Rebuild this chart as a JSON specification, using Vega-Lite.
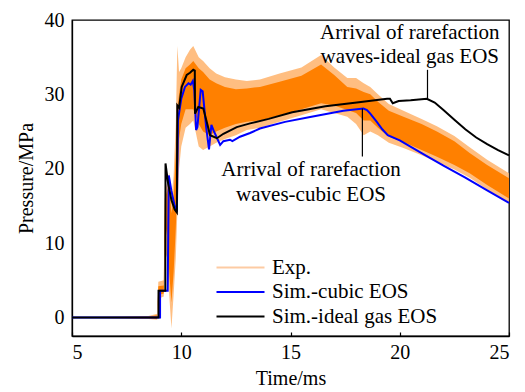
{
  "$schema": "https://vega.github.io/schema/vega-lite/v6.json",
  "width": 437,
  "height": 316,
  "autosize": {"type": "none"},
  "padding": {"left": 72, "top": 20, "right": 16, "bottom": 56},
  "background": "white",
  "config": {
    "view": {"stroke": "black", "strokeWidth": 1.3},
    "axis": {
      "grid": false,
      "domainColor": "black",
      "domainWidth": 1.3,
      "tickColor": "black",
      "tickWidth": 1.2,
      "labelFont": "Liberation Serif",
      "labelFontSize": 20,
      "labelColor": "black",
      "titleFont": "Liberation Serif",
      "titleFontSize": 20,
      "titleFontWeight": "normal",
      "titleColor": "black"
    }
  },
  "datasets": {
    "exp": [
      {"t": 5, "lo": 0, "hi": 0, "lo2": 0, "hi2": 0},
      {"t": 8.5, "lo": -0.1, "hi": 0.1, "lo2": -0.2, "hi2": 0.2},
      {"t": 8.9, "lo": -0.2, "hi": 0.3, "lo2": -0.3, "hi2": 0.5},
      {"t": 8.95, "lo": 3.0, "hi": 4.2, "lo2": 2.5, "hi2": 4.8},
      {"t": 9.2, "lo": 3.2, "hi": 4.3, "lo2": 2.8, "hi2": 5.0},
      {"t": 9.25, "lo": 10, "hi": 16, "lo2": 9, "hi2": 17},
      {"t": 9.35, "lo": 12, "hi": 17, "lo2": 8, "hi2": 18},
      {"t": 9.45, "lo": 6, "hi": 18, "lo2": 3, "hi2": 19.5},
      {"t": 9.55, "lo": 2, "hi": 14, "lo2": -1.5, "hi2": 16},
      {"t": 9.65, "lo": 6, "hi": 16, "lo2": 3, "hi2": 19},
      {"t": 9.75, "lo": 12, "hi": 22, "lo2": 8, "hi2": 26},
      {"t": 9.82, "lo": 18, "hi": 28, "lo2": 14, "hi2": 36.5},
      {"t": 9.9, "lo": 24, "hi": 30, "lo2": 20, "hi2": 33},
      {"t": 10.0, "lo": 26, "hi": 32, "lo2": 23, "hi2": 33.5},
      {"t": 10.2, "lo": 28, "hi": 33.5, "lo2": 25.5, "hi2": 35},
      {"t": 10.4, "lo": 28, "hi": 34, "lo2": 26, "hi2": 36},
      {"t": 10.55, "lo": 28, "hi": 34.5, "lo2": 26.5, "hi2": 36.5},
      {"t": 10.8, "lo": 26, "hi": 33.5, "lo2": 23, "hi2": 35},
      {"t": 11.0, "lo": 25, "hi": 33, "lo2": 22.5, "hi2": 34.5},
      {"t": 11.3, "lo": 24.5, "hi": 32, "lo2": 23, "hi2": 33.5},
      {"t": 11.6, "lo": 25, "hi": 31.5, "lo2": 23.5, "hi2": 32.8},
      {"t": 12.0, "lo": 25.5, "hi": 31, "lo2": 24, "hi2": 32.3},
      {"t": 12.5, "lo": 26, "hi": 30.7, "lo2": 24.5, "hi2": 32},
      {"t": 13.0, "lo": 26.3, "hi": 30.8, "lo2": 25.2, "hi2": 31.8},
      {"t": 13.6, "lo": 26.5, "hi": 31.0, "lo2": 25.5, "hi2": 32},
      {"t": 14.5, "lo": 27.2, "hi": 31.7, "lo2": 26.3, "hi2": 32.8},
      {"t": 15.5, "lo": 28, "hi": 32.5, "lo2": 27.2, "hi2": 33.6},
      {"t": 16.4, "lo": 28.8, "hi": 34.0, "lo2": 28, "hi2": 35.3},
      {"t": 17.0, "lo": 28.5, "hi": 32.6, "lo2": 27.5, "hi2": 33.6},
      {"t": 17.6, "lo": 27.9, "hi": 31.0, "lo2": 27, "hi2": 32.2},
      {"t": 18.0, "lo": 27.5, "hi": 30.8, "lo2": 26, "hi2": 32.2},
      {"t": 18.35, "lo": 26.5, "hi": 30.3, "lo2": 24.5, "hi2": 31.5},
      {"t": 18.65, "lo": 26.5, "hi": 30, "lo2": 25, "hi2": 31},
      {"t": 19.0, "lo": 25.5, "hi": 29, "lo2": 24.5, "hi2": 30},
      {"t": 19.5, "lo": 24.3, "hi": 27.8, "lo2": 23.5, "hi2": 28.7},
      {"t": 20.17, "lo": 23.6, "hi": 27, "lo2": 22.8, "hi2": 27.8},
      {"t": 21.0, "lo": 22.5, "hi": 26, "lo2": 21.8, "hi2": 26.7},
      {"t": 21.7, "lo": 21.6, "hi": 25, "lo2": 20.9, "hi2": 25.7},
      {"t": 22.5, "lo": 20.5, "hi": 23.7, "lo2": 19.9, "hi2": 24.4},
      {"t": 23.2, "lo": 19.4, "hi": 22.1, "lo2": 18.8, "hi2": 22.9},
      {"t": 24.0, "lo": 17.8, "hi": 20.5, "lo2": 17.2, "hi2": 21.2},
      {"t": 25.0, "lo": 16.0, "hi": 18.7, "lo2": 15.5, "hi2": 19.4}
    ],
    "sim": [
      {"series": "Sim.-cubic EOS", "t": 5, "P": 0},
      {"series": "Sim.-cubic EOS", "t": 9.03, "P": 0},
      {"series": "Sim.-cubic EOS", "t": 9.031, "P": 3.6},
      {"series": "Sim.-cubic EOS", "t": 9.38, "P": 3.6},
      {"series": "Sim.-cubic EOS", "t": 9.43, "P": 19.1},
      {"series": "Sim.-cubic EOS", "t": 9.55, "P": 17.0},
      {"series": "Sim.-cubic EOS", "t": 9.7, "P": 15.0},
      {"series": "Sim.-cubic EOS", "t": 9.8, "P": 14.2},
      {"series": "Sim.-cubic EOS", "t": 9.85, "P": 26.5},
      {"series": "Sim.-cubic EOS", "t": 10.0, "P": 29.4},
      {"series": "Sim.-cubic EOS", "t": 10.17, "P": 31.0},
      {"series": "Sim.-cubic EOS", "t": 10.33, "P": 31.5},
      {"series": "Sim.-cubic EOS", "t": 10.43, "P": 31.3},
      {"series": "Sim.-cubic EOS", "t": 10.53, "P": 31.8},
      {"series": "Sim.-cubic EOS", "t": 10.6, "P": 30.5},
      {"series": "Sim.-cubic EOS", "t": 10.68, "P": 25.2},
      {"series": "Sim.-cubic EOS", "t": 10.74, "P": 25.6},
      {"series": "Sim.-cubic EOS", "t": 10.89, "P": 30.6},
      {"series": "Sim.-cubic EOS", "t": 10.98, "P": 30.4},
      {"series": "Sim.-cubic EOS", "t": 11.14, "P": 25.6},
      {"series": "Sim.-cubic EOS", "t": 11.27, "P": 22.6},
      {"series": "Sim.-cubic EOS", "t": 11.38, "P": 25.9},
      {"series": "Sim.-cubic EOS", "t": 11.5, "P": 25.0},
      {"series": "Sim.-cubic EOS", "t": 11.78, "P": 23.2},
      {"series": "Sim.-cubic EOS", "t": 11.93, "P": 23.7},
      {"series": "Sim.-cubic EOS", "t": 12.23, "P": 23.9},
      {"series": "Sim.-cubic EOS", "t": 12.34, "P": 23.7},
      {"series": "Sim.-cubic EOS", "t": 12.69, "P": 24.3},
      {"series": "Sim.-cubic EOS", "t": 13.15, "P": 24.8},
      {"series": "Sim.-cubic EOS", "t": 13.6, "P": 25.4},
      {"series": "Sim.-cubic EOS", "t": 14.75, "P": 26.3},
      {"series": "Sim.-cubic EOS", "t": 15.9, "P": 26.95},
      {"series": "Sim.-cubic EOS", "t": 17.42, "P": 27.8},
      {"series": "Sim.-cubic EOS", "t": 18.34, "P": 28.1},
      {"series": "Sim.-cubic EOS", "t": 18.5, "P": 27.9},
      {"series": "Sim.-cubic EOS", "t": 18.65, "P": 27.4},
      {"series": "Sim.-cubic EOS", "t": 18.95, "P": 26.3},
      {"series": "Sim.-cubic EOS", "t": 19.2, "P": 25.3},
      {"series": "Sim.-cubic EOS", "t": 19.45, "P": 24.5},
      {"series": "Sim.-cubic EOS", "t": 20.0, "P": 23.8},
      {"series": "Sim.-cubic EOS", "t": 21.0, "P": 22.1},
      {"series": "Sim.-cubic EOS", "t": 22.0, "P": 20.4},
      {"series": "Sim.-cubic EOS", "t": 23.0, "P": 18.8},
      {"series": "Sim.-cubic EOS", "t": 24.0, "P": 17.1},
      {"series": "Sim.-cubic EOS", "t": 25.0, "P": 15.4},
      {"series": "Sim.-ideal gas EOS", "t": 5, "P": 0},
      {"series": "Sim.-ideal gas EOS", "t": 8.96, "P": 0},
      {"series": "Sim.-ideal gas EOS", "t": 8.961, "P": 3.6},
      {"series": "Sim.-ideal gas EOS", "t": 9.27, "P": 3.6},
      {"series": "Sim.-ideal gas EOS", "t": 9.28, "P": 20.7},
      {"series": "Sim.-ideal gas EOS", "t": 9.4, "P": 18.0},
      {"series": "Sim.-ideal gas EOS", "t": 9.55, "P": 15.8},
      {"series": "Sim.-ideal gas EOS", "t": 9.7, "P": 14.5},
      {"series": "Sim.-ideal gas EOS", "t": 9.8, "P": 14.1},
      {"series": "Sim.-ideal gas EOS", "t": 9.82, "P": 28.5},
      {"series": "Sim.-ideal gas EOS", "t": 9.9, "P": 28.2},
      {"series": "Sim.-ideal gas EOS", "t": 10.02, "P": 31.0},
      {"series": "Sim.-ideal gas EOS", "t": 10.25, "P": 32.6},
      {"series": "Sim.-ideal gas EOS", "t": 10.4, "P": 32.9},
      {"series": "Sim.-ideal gas EOS", "t": 10.55, "P": 33.3},
      {"series": "Sim.-ideal gas EOS", "t": 10.62, "P": 33.2},
      {"series": "Sim.-ideal gas EOS", "t": 10.63, "P": 27.4},
      {"series": "Sim.-ideal gas EOS", "t": 10.78, "P": 28.3},
      {"series": "Sim.-ideal gas EOS", "t": 11.01, "P": 28.1},
      {"series": "Sim.-ideal gas EOS", "t": 11.2, "P": 25.9},
      {"series": "Sim.-ideal gas EOS", "t": 11.32, "P": 24.5},
      {"series": "Sim.-ideal gas EOS", "t": 11.63, "P": 24.1},
      {"series": "Sim.-ideal gas EOS", "t": 11.93, "P": 24.7},
      {"series": "Sim.-ideal gas EOS", "t": 12.54, "P": 25.6},
      {"series": "Sim.-ideal gas EOS", "t": 13.15, "P": 26.1},
      {"series": "Sim.-ideal gas EOS", "t": 14.0, "P": 26.7},
      {"series": "Sim.-ideal gas EOS", "t": 15.08, "P": 27.6},
      {"series": "Sim.-ideal gas EOS", "t": 16.6, "P": 28.4},
      {"series": "Sim.-ideal gas EOS", "t": 18.13, "P": 28.95},
      {"series": "Sim.-ideal gas EOS", "t": 19.42, "P": 29.4},
      {"series": "Sim.-ideal gas EOS", "t": 19.55, "P": 29.4},
      {"series": "Sim.-ideal gas EOS", "t": 19.68, "P": 28.8},
      {"series": "Sim.-ideal gas EOS", "t": 19.95, "P": 29.1},
      {"series": "Sim.-ideal gas EOS", "t": 20.5, "P": 29.2},
      {"series": "Sim.-ideal gas EOS", "t": 21.24, "P": 29.4},
      {"series": "Sim.-ideal gas EOS", "t": 21.6, "P": 28.9},
      {"series": "Sim.-ideal gas EOS", "t": 22.0, "P": 27.9},
      {"series": "Sim.-ideal gas EOS", "t": 22.5, "P": 26.6},
      {"series": "Sim.-ideal gas EOS", "t": 23.0, "P": 25.3},
      {"series": "Sim.-ideal gas EOS", "t": 23.5, "P": 24.2},
      {"series": "Sim.-ideal gas EOS", "t": 24.0, "P": 23.3},
      {"series": "Sim.-ideal gas EOS", "t": 24.5, "P": 22.5},
      {"series": "Sim.-ideal gas EOS", "t": 25.0, "P": 21.8}
    ],
    "leaders": [
      {"t": 21.27, "P": 33.3, "P2": 29.4},
      {"t": 18.29, "P": 21.65, "P2": 28.1}
    ],
    "notes": [
      {"t": 20.46, "P": 38.3, "label": "Arrival of rarefaction"},
      {"t": 20.46, "P": 35.07, "label": "waves-ideal gas EOS"},
      {"t": 15.94, "P": 19.87, "label": "Arrival of rarefaction"},
      {"t": 15.94, "P": 16.5, "label": "waves-cubic EOS"}
    ]
  },
  "layer": [
    {
      "data": {"name": "exp"},
      "mark": {"type": "area", "color": "#FFB36B", "opacity": 0.85},
      "encoding": {
        "x": {"field": "t", "type": "quantitative", "scale": {"domain": [5, 25], "nice": false, "zero": false},
          "axis": {"title": "Time/ms", "values": [5, 10, 15, 20, 25], "tickSize": -4, "labelPadding": 10, "titlePadding": 6}},
        "y": {"field": "hi2", "type": "quantitative", "scale": {"domain": [-2.5, 40], "nice": false, "zero": false},
          "axis": {"title": "Pressure/MPa", "values": [0, 10, 20, 30, 40], "ticks": false, "labelPadding": 8, "titlePadding": 8}},
        "y2": {"field": "lo2"}
      }
    },
    {
      "data": {"name": "exp"},
      "mark": {"type": "area", "color": "#FF8000"},
      "encoding": {
        "x": {"field": "t", "type": "quantitative"},
        "y": {"field": "hi", "type": "quantitative"},
        "y2": {"field": "lo"}
      }
    },
    {
      "data": {"name": "sim"},
      "mark": {"type": "line", "strokeWidth": 2},
      "encoding": {
        "x": {"field": "t", "type": "quantitative"},
        "y": {"field": "P", "type": "quantitative"},
        "color": {
          "field": "series", "type": "nominal",
          "scale": {"domain": ["Exp.", "Sim.-cubic EOS", "Sim.-ideal gas EOS"], "range": ["#FDCBA3", "#0000FF", "#000000"]},
          "legend": {
            "orient": "none", "legendX": 158, "legendY": 237, "title": null,
            "symbolType": "M-4,0H4", "symbolSize": 144, "symbolStrokeWidth": 2,
            "labelOffset": 21, "labelFont": "Liberation Serif", "labelFontSize": 21, "labelColor": "black",
            "rowPadding": 2.5, "padding": 0, "labelLimit": 300
          }
        }
      }
    },
    {
      "data": {"name": "leaders"},
      "mark": {"type": "rule", "color": "black", "strokeWidth": 1.2},
      "encoding": {
        "x": {"field": "t", "type": "quantitative"},
        "y": {"field": "P", "type": "quantitative"},
        "y2": {"field": "P2"}
      }
    },
    {
      "data": {"name": "notes"},
      "mark": {"type": "text", "font": "Liberation Serif", "fontSize": 21, "color": "black", "align": "center", "baseline": "middle"},
      "encoding": {
        "x": {"field": "t", "type": "quantitative"},
        "y": {"field": "P", "type": "quantitative"},
        "text": {"field": "label"}
      }
    }
  ]
}
